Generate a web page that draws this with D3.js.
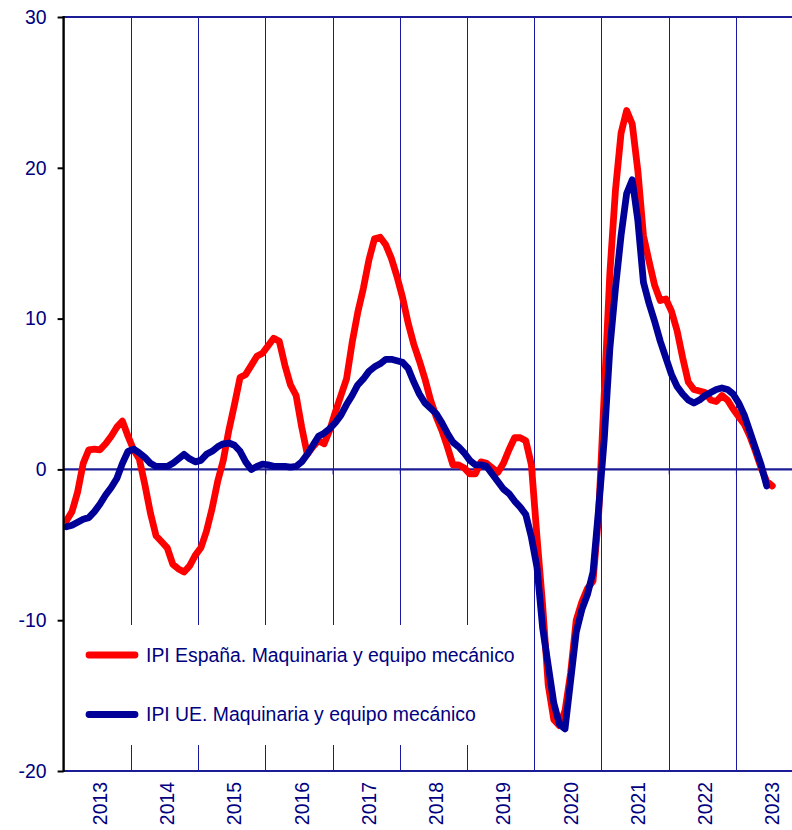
<!DOCTYPE html>
<html>
<head>
<meta charset="utf-8">
<script src="https://cdn.jsdelivr.net/npm/d3@7"></script>
<style>
  html, body { margin: 0; padding: 0; background: #fff; }
  svg { display: block; }
  text { font-family: "Liberation Sans", Arial, sans-serif; }
</style>
</head>
<body>
<svg id="chart" width="792" height="830"></svg>
<script>
// ---- Data (monthly, starting January 2013) ----
const startYear = 2013;
const years = ["2013","2014","2015","2016","2017","2018","2019","2020","2021","2022","2023"];
const yTicks = [-20, -10, 0, 10, 20, 30];

const seriesNames = [
  "IPI España. Maquinaria y equipo mecánico",
  "IPI UE. Maquinaria y equipo mecánico"
];

// IPI España (Jan 2013 - Jul 2023)
const spain = [
  -3.4, -2.8, -1.5, 0.4, 1.3, 1.35, 1.3, 1.7, 2.2, 2.8, 3.2, 2.2,
  1.3, 0.7, -1.0, -2.9, -4.4, -4.8, -5.2, -6.3, -6.6, -6.8, -6.4, -5.7,
  -5.2, -4.1, -2.6, -0.8, 0.6, 2.6, 4.3, 6.1, 6.3, 6.9, 7.5, 7.7,
  8.2, 8.7, 8.5, 6.9, 5.6, 4.9, 2.8, 1.0, 1.5, 1.9, 1.7, 2.6,
  3.8, 4.9, 6.0, 8.4, 10.4, 12.0, 13.9, 15.3, 15.4, 14.9, 14.0, 12.8,
  11.4, 9.7, 8.3, 7.2, 6.0, 4.6, 3.5, 2.6, 1.5, 0.3, 0.3, 0.1,
  -0.3, -0.3, 0.5, 0.4, 0.1, -0.2, 0.4, 1.3, 2.1, 2.1, 1.9, 0.3,
  -4.5, -9.0, -14.3, -16.6, -17.0, -16.0, -13.5, -10.0, -8.8, -7.9, -7.4, -3.0,
  5.0, 13.0, 18.5, 22.3, 23.8, 22.9, 19.8, 15.5, 13.8, 12.2, 11.2, 11.3,
  10.5, 9.2, 7.4, 5.8, 5.3, 5.2, 5.1, 4.6, 4.5, 4.9, 4.6, 4.0,
  3.5, 3.0, 2.2, 1.2, 0.1, -0.8, -1.1
];

// IPI UE (Jan 2013 - Jun 2023)
const eu = [
  -3.8, -3.7, -3.5, -3.3, -3.2, -2.8, -2.3, -1.7, -1.2, -0.6, 0.4, 1.2,
  1.35, 1.1, 0.8, 0.4, 0.2, 0.2, 0.2, 0.4, 0.7, 1.0, 0.7, 0.5,
  0.6, 1.0, 1.2, 1.5, 1.7, 1.75, 1.6, 1.2, 0.5, 0.0, 0.2, 0.35,
  0.3, 0.2, 0.2, 0.2, 0.15, 0.2, 0.5, 1.0, 1.6, 2.2, 2.4, 2.7,
  3.1, 3.6, 4.3, 4.9, 5.6, 6.0, 6.5, 6.8, 7.0, 7.3, 7.3, 7.2,
  7.1, 6.7, 5.8, 5.0, 4.4, 4.05, 3.7, 3.1, 2.4, 1.8, 1.5, 1.1,
  0.6, 0.3, 0.3, 0.2, -0.3, -0.8, -1.3, -1.6, -2.1, -2.5, -3.0, -4.5,
  -6.5, -10.5, -13.0, -15.5, -16.9, -17.2, -14.0, -10.8, -9.3, -8.3, -6.8, -2.6,
  2.0, 8.0, 12.0, 15.5, 18.3, 19.2, 16.5, 12.4, 11.0, 9.8, 8.5, 7.4,
  6.3, 5.5, 5.0, 4.6, 4.4, 4.6, 4.9, 5.1, 5.3, 5.4, 5.3, 5.0,
  4.4, 3.6, 2.5, 1.4, 0.3, -1.1
];

// ---- Layout ----
const W = 792, H = 830;
const plot = { left: 63.6, top: 17, bottom: 771, right: 792 };
const yearWidth = 67.23;
const totalMonths = years.length * 12;

const svg = d3.select("#chart");
const navy = "#000080";
const gridCol = "#1a1aa0";

const x = d3.scaleLinear()
  .domain([0, totalMonths])
  .range([plot.left, plot.left + yearWidth * years.length]);
const y = d3.scaleLinear().domain([-20, 30]).range([plot.bottom, plot.top]);

svg.append("defs").append("clipPath").attr("id", "clip")
  .append("rect").attr("x", plot.left).attr("y", 0)
  .attr("width", plot.right - plot.left).attr("height", H);

const g = svg.append("g").attr("clip-path", "url(#clip)");

// vertical year gridlines
const boundaries = d3.range(1, years.length).map(i => i * 12);
g.selectAll("line.grid").data(boundaries).enter().append("line")
  .attr("class", "grid")
  .attr("x1", d => Math.round(x(d)) + 0.5).attr("x2", d => Math.round(x(d)) + 0.5)
  .attr("y1", y(30)).attr("y2", y(-20))
  .attr("stroke", gridCol).attr("stroke-width", 1);

// legend background box (covers gridlines)
const legendBox = { x0: 66, x1: 524, y0: 625, y1: 745 };
svg.append("rect")
  .attr("x", legendBox.x0).attr("y", legendBox.y0)
  .attr("width", legendBox.x1 - legendBox.x0).attr("height", legendBox.y1 - legendBox.y0)
  .attr("fill", "#fff");

// top and bottom frame lines
[30, -20].forEach(v => {
  g.append("line")
    .attr("x1", plot.left).attr("x2", plot.right)
    .attr("y1", y(v)).attr("y2", y(v))
    .attr("stroke", "#1c1c96").attr("stroke-width", 2.2);
});

// zero axis with small ticks
const xAxis = d3.axisBottom(x).tickValues(boundaries).tickSize(5).tickFormat("");
const xa = g.append("g").attr("transform", `translate(0,${y(0)})`).call(xAxis);
xa.select(".domain").attr("stroke", "#1c1c96").attr("stroke-width", 2.2)
  .attr("d", `M${plot.left},0H${plot.right}`);
xa.selectAll(".tick line").attr("stroke", gridCol).attr("stroke-width", 1);

// series lines
const line = d3.line()
  .x((d, i) => x(i + 0.5))
  .y(d => y(d))
  .curve(d3.curveLinear);

g.append("path").datum(spain)
  .attr("d", line).attr("fill", "none")
  .attr("stroke", "#ff0000").attr("stroke-width", 6.8)
  .attr("stroke-linejoin", "round").attr("stroke-linecap", "round");

g.append("path").datum(eu)
  .attr("d", line).attr("fill", "none")
  .attr("stroke", "#000099").attr("stroke-width", 6.8)
  .attr("stroke-linejoin", "round").attr("stroke-linecap", "round");

// year labels (rotated)
svg.selectAll("text.year").data(years).enter().append("text")
  .attr("class", "year")
  .attr("transform", (d, i) => `translate(${x(i * 12 + 6) + 3},782) rotate(-90)`)
  .attr("text-anchor", "end")
  .attr("dy", "0.35em")
  .attr("font-size", 19.4)
  .attr("fill", navy)
  .text(d => d);

// left axis
const yAxis = d3.axisLeft(y).tickValues(yTicks).tickSize(6).tickPadding(11).tickFormat(d => String(d));
const ya = svg.append("g").attr("transform", `translate(${plot.left},0)`).call(yAxis);
ya.select(".domain").attr("stroke", "#000").attr("stroke-width", 2.4)
  .attr("d", `M0,${plot.top - 1}V${plot.bottom + 1}`);
ya.selectAll(".tick line").attr("stroke", "#000").attr("stroke-width", 2);
ya.selectAll(".tick text")
  .attr("fill", navy).attr("font-size", 19.4)
  .attr("font-family", "'Liberation Sans', Arial, sans-serif");

// legend
const legendColors = ["#ff0000", "#000099"];
const legendY = [655, 714.5];
const lg = svg.append("g");
seriesNames.forEach((name, i) => {
  lg.append("line")
    .attr("x1", 89).attr("x2", 135)
    .attr("y1", legendY[i]).attr("y2", legendY[i])
    .attr("stroke", legendColors[i]).attr("stroke-width", 6.8)
    .attr("stroke-linecap", "round");
  lg.append("text")
    .attr("x", 146).attr("y", legendY[i] + 6.8)
    .attr("font-size", 19.4)
    .attr("fill", navy)
    .text(name);
});
</script>
</body>
</html>
